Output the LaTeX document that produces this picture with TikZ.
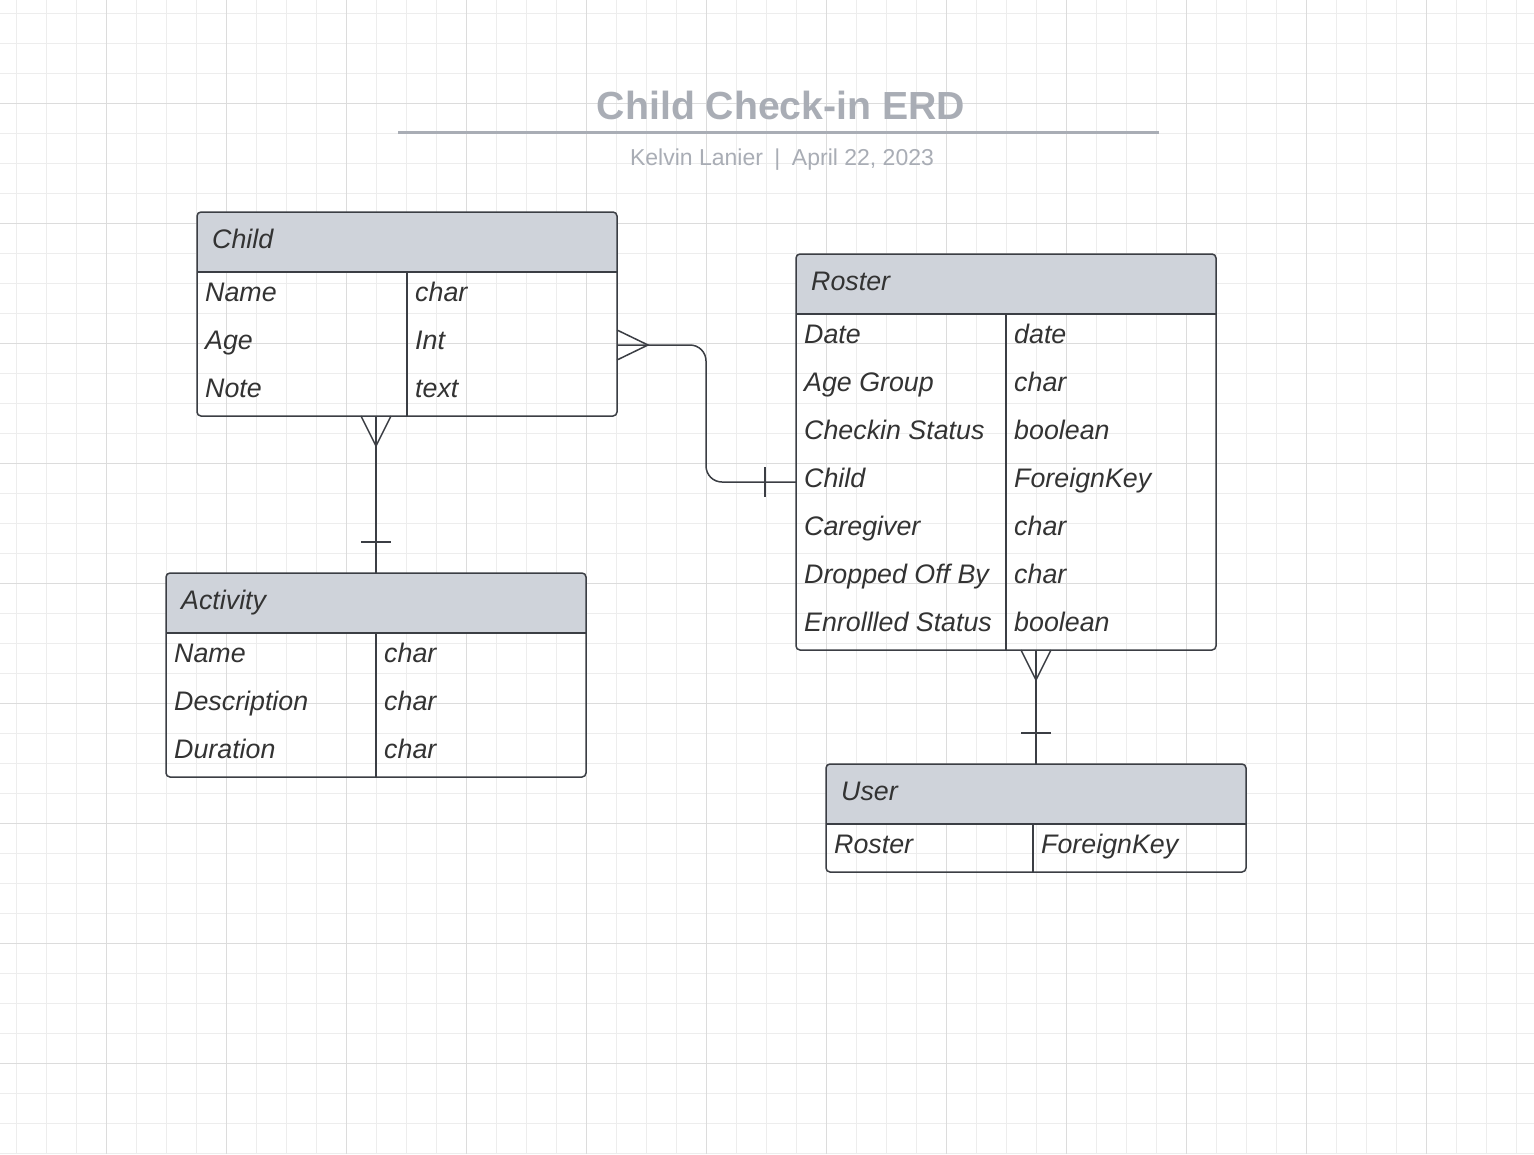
\documentclass[tikz,border=0pt]{standalone}
\usepackage{fontspec}
\setmainfont{Liberation Sans}
\usetikzlibrary{positioning}

\definecolor{gridminor}{HTML}{EDEDED}
\definecolor{gridmajor}{HTML}{DCDCDC}
\definecolor{hdrgray}{HTML}{CFD3DA}
\definecolor{edgegray}{HTML}{3B3E44}
\definecolor{fieldtext}{HTML}{333333}
\definecolor{titlegray}{HTML}{A9ADB5}

\tikzset{
  entity/.style={minimum width=420pt, inner sep=0pt, outer sep=0pt, anchor=north west},
  outline/.style={draw=edgegray, line width=1.5pt},
  field/.style={anchor=base west, inner sep=0pt, text=fieldtext, font=\fontsize{26.8}{30}\selectfont\itshape},
  link/.style={draw=edgegray, line width=1.5pt},
}

\begin{document}
\begin{tikzpicture}[x=1pt, y=-1pt]
\fill[white] (0,0) rectangle (1534,1154);
\useasboundingbox (0,0) rectangle (1534,1154);
\foreach \x in {16,46,...,1534} \draw[gridminor, line width=1pt] (\x,0) -- (\x,1154);
\foreach \y in {13,43,...,1154} \draw[gridminor, line width=1pt] (0,\y) -- (1534,\y);
\foreach \x in {106,226,...,1534} \draw[gridmajor, line width=1pt] (\x,0) -- (\x,1154);
\foreach \y in {103,223,...,1154} \draw[gridmajor, line width=1pt] (0,\y) -- (1534,\y);

\node[anchor=base, inner sep=0pt, text=titlegray, font=\fontsize{39.2}{44}\selectfont\bfseries] (title) at (781,119) {Child Check-in ERD};
\coordinate (rule-l) at (398,132);
\coordinate (rule-r) at (1159,132);
\draw[titlegray, line width=3pt] (rule-l) -- (rule-r);
\node[anchor=base, inner sep=0pt, text=titlegray, font=\fontsize{23}{26}\selectfont] (byline) at (782,165) {Kelvin Lanier\hspace{11.5pt}|\hspace{11.5pt}April 22, 2023};

\foreach \name/\x/\y/\h/\d/\hd in {child/197/212/204/210/Child, roster/796/254/396/210/Roster, activity/166/573/204/210/Activity, user/826/764/108/207/User} {
  \node[entity, minimum height=\h pt] (\name) at (\x,\y) {};
  \fill[hdrgray, rounded corners=4pt] (\name.north west) rectangle ([yshift=-60pt]\name.north east);
  \fill[hdrgray] ([yshift=-30pt]\name.north west) rectangle ([yshift=-60pt]\name.north east);
  \draw[outline] ([yshift=-60pt]\name.north west) -- ([yshift=-60pt]\name.north east);
  \draw[outline] ([xshift=\d pt, yshift=-60pt]\name.north west) -- ([xshift=\d pt]\name.south west);
  \draw[outline, rounded corners=4pt] (\name.north west) rectangle (\name.south east);
  \node[field] (\name-head) at ([xshift=15pt, yshift=-36pt]\name.north west) {\hd};
}

\foreach \k/\a/\t in {0/Name/char, 1/Age/Int, 2/Note/text} {
  \node[field] (child-a\k) at ([xshift=8pt, yshift=-89.5pt-48pt*\k]child.north west) {\a};
  \node[field] (child-t\k) at ([xshift=218pt, yshift=-89.5pt-48pt*\k]child.north west) {\t};
}
\foreach \k/\a/\t in {0/Date/date, 1/Age Group/char, 2/Checkin Status/boolean, 3/Child/ForeignKey, 4/Caregiver/char, 5/Dropped Off By/char, 6/Enrollled Status/boolean} {
  \node[field] (roster-a\k) at ([xshift=8pt, yshift=-89.5pt-48pt*\k]roster.north west) {\a};
  \node[field] (roster-t\k) at ([xshift=218pt, yshift=-89.5pt-48pt*\k]roster.north west) {\t};
}
\foreach \k/\a/\t in {0/Name/char, 1/Description/char, 2/Duration/char} {
  \node[field] (activity-a\k) at ([xshift=8pt, yshift=-89.5pt-48pt*\k]activity.north west) {\a};
  \node[field] (activity-t\k) at ([xshift=218pt, yshift=-89.5pt-48pt*\k]activity.north west) {\t};
}
\node[field] (user-a0) at ([xshift=8pt, yshift=-89.5pt]user.north west) {Roster};
\node[field] (user-t0) at ([xshift=215pt, yshift=-89.5pt]user.north west) {ForeignKey};

\coordinate (cr-a) at ([yshift=-133pt]child.north east);
\coordinate (cr-b) at ([yshift=-228pt]roster.north west);
\draw[link, rounded corners=16pt] (cr-a) -- ++(89,0) |- (cr-b);
\draw[link] ([yshift=15pt]cr-a) -- ([xshift=31pt]cr-a) -- ([yshift=-15pt]cr-a);
\draw[link] ([xshift=-31pt, yshift=15pt]cr-b) -- ([xshift=-31pt, yshift=-15pt]cr-b);

\coordinate (ca-a) at (activity.north |- child.south);
\draw[link] (ca-a) -- (activity.north);
\draw[link] ([xshift=-15pt]ca-a) -- ([yshift=-30pt]ca-a) -- ([xshift=15pt]ca-a);
\draw[link] ([xshift=-15pt, yshift=31pt]activity.north) -- ([xshift=15pt, yshift=31pt]activity.north);

\coordinate (ru-a) at (user.north |- roster.south);
\draw[link] (ru-a) -- (user.north);
\draw[link] ([xshift=-15pt]ru-a) -- ([yshift=-30pt]ru-a) -- ([xshift=15pt]ru-a);
\draw[link] ([xshift=-15pt, yshift=31pt]user.north) -- ([xshift=15pt, yshift=31pt]user.north);
\end{tikzpicture}
\end{document}
